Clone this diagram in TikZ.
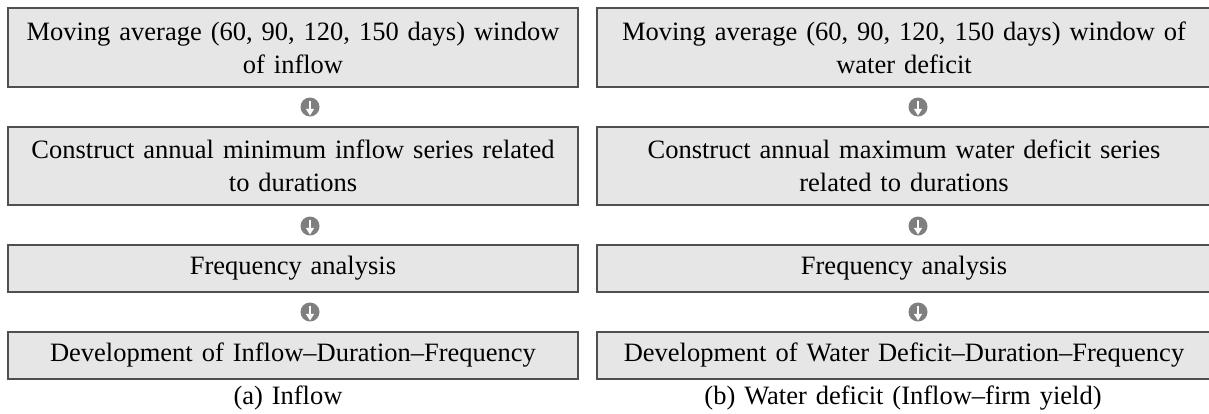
\documentclass[tikz,border=0pt]{standalone}
\usepackage{fontspec}
\setmainfont[WordSpace={1.35}]{Liberation Serif}
\definecolor{boxfill}{HTML}{E6E6E6}
\definecolor{boxline}{HTML}{505050}
\definecolor{icongray}{HTML}{7F7F7F}
\begin{document}
\begin{tikzpicture}[x=1pt,y=-1pt,
  box/.style={draw=boxline, line width=1.4pt, fill=boxfill, rectangle, inner sep=0pt,
    align=center, font=\fontsize{26.5}{33}\selectfont},
  lbox/.style={box, minimum width=570pt},
  rbox/.style={box, minimum width=614pt},
  caption/.style={inner sep=0pt, font=\fontsize{26.5}{33}\selectfont},
  flowicon/.pic={
    \fill[icongray] (0,0) circle[radius=9.5];
    \fill[white] (-1.4,-6.5) rectangle (1.4,2.5);
    \fill[white] (-4.2,1.8) -- (4.2,1.8) -- (0,8.5) -- cycle;
  }]
\useasboundingbox (0,0) rectangle (1209,413);
% left column
\node[lbox, minimum height=79pt] (L1) at (293,47.5) {Moving average (60, 90, 120, 150 days) window\\of inflow};
\node[lbox, minimum height=78pt] (L2) at (293,166) {Construct annual minimum inflow series related\\to durations};
\node[lbox, minimum height=47pt] (L3) at (293,268.5) {Frequency analysis};
\node[lbox, minimum height=47pt] (L4) at (293,355.5) {Development of Inflow--Duration--Frequency};
\node[caption] (CL) at (288,398) {(a) Inflow};
% right column
\node[rbox, minimum height=79pt] (R1) at (904,47.5) {Moving average (60, 90, 120, 150 days) window of\\water deficit};
\node[rbox, minimum height=78pt] (R2) at (904,166) {Construct annual maximum water deficit series\\related to durations};
\node[rbox, minimum height=47pt] (R3) at (904,268.5) {Frequency analysis};
\node[rbox, minimum height=47pt] (R4) at (904,355.5) {Development of Water Deficit--Duration--Frequency};
\node[caption] (CR) at (903,398) {(b) Water deficit (Inflow--firm yield)};
% flow icons between boxes
\path (310,107) coordinate (AL1) (310,226) coordinate (AL2) (310,312) coordinate (AL3);
\path (918,107) coordinate (AR1) (918,226) coordinate (AR2) (918,312) coordinate (AR3);
\foreach \c in {AL1,AL2,AL3,AR1,AR2,AR3} \pic at (\c) {flowicon};
\end{tikzpicture}
\end{document}
